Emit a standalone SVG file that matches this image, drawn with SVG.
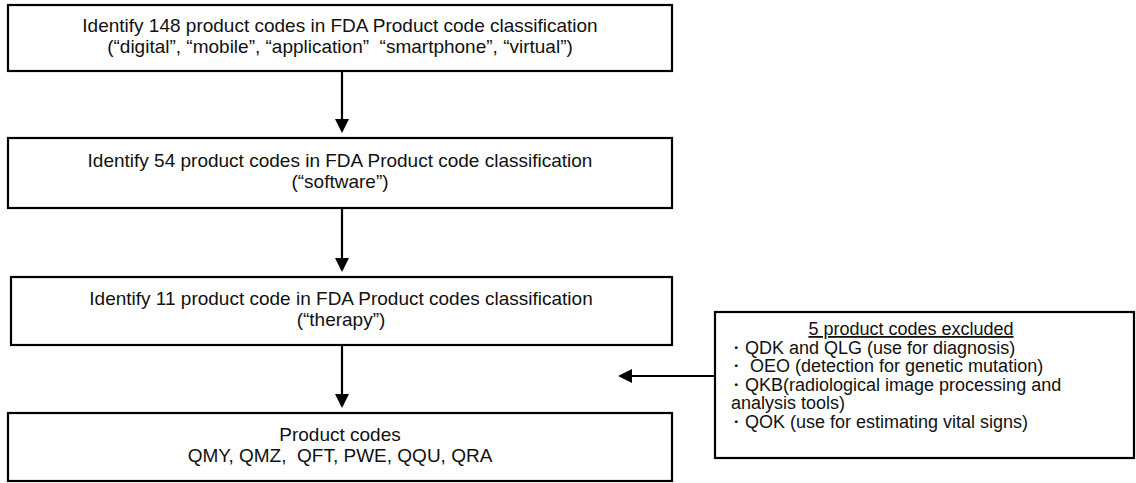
<svg xmlns="http://www.w3.org/2000/svg" width="1136" height="483" viewBox="0 0 1136 483">
<style>
.box{fill:#fff;stroke:#000;stroke-width:2.2}
.t{font-family:"Liberation Sans",Arial,sans-serif;font-size:18px;fill:#111}
.m{font-size:19px}
.c{text-anchor:middle}
.con{stroke:#000;stroke-width:2.2;fill:none}
</style>
<defs>
<marker id="ah" markerWidth="14" markerHeight="14" refX="12" refY="7" orient="auto" markerUnits="userSpaceOnUse">
<path d="M0,0 L14,7 L0,14 Z" fill="#000"/>
</marker>
</defs>
<rect width="1136" height="483" fill="#fff"/>
<g id="n1">
<rect class="box" x="8" y="5" width="664" height="66"/>
<text class="t m c" x="340" y="32">Identify 148 product codes in FDA Product code classification</text>
<text class="t m c" x="340" y="53" xml:space="preserve">(“digital”, “mobile”, “application”  “smartphone”, “virtual”)</text>
</g>
<g id="n2">
<rect class="box" x="8" y="138" width="664" height="70"/>
<text class="t m c" x="340" y="167">Identify 54 product codes in FDA Product code classification</text>
<text class="t m c" x="340" y="188">(“software”)</text>
</g>
<g id="n3">
<rect class="box" x="11" y="277" width="661" height="68"/>
<text class="t m c" x="341" y="305">Identify 11 product code in FDA Product codes classification</text>
<text class="t m c" x="341" y="326">(“therapy”)</text>
</g>
<g id="n4">
<rect class="box" x="8" y="413" width="664" height="68"/>
<text class="t m c" x="340" y="441">Product codes</text>
<text class="t m c" x="340" y="462" xml:space="preserve">QMY, QMZ,  QFT, PWE, QQU, QRA</text>
</g>
<g id="n5">
<rect class="box" x="715" y="312" width="419" height="146"/>
<text class="t c" x="911" y="335" text-decoration="underline">5 product codes excluded</text>
<text class="t" x="727" y="353.5">・QDK and QLG (use for diagnosis)</text>
<text class="t" x="727" y="372" xml:space="preserve">・ OEO (detection for genetic mutation)</text>
<text class="t" x="727" y="390.5">・QKB(radiological image processing and</text>
<text class="t" x="731" y="409">analysis tools)</text>
<text class="t" x="727" y="427.5">・QOK (use for estimating vital signs)</text>
</g>
<g id="connectors">
<line class="con" x1="342" y1="71" x2="342" y2="131" marker-end="url(#ah)"/>
<line class="con" x1="342" y1="208" x2="342" y2="270" marker-end="url(#ah)"/>
<line class="con" x1="342" y1="345" x2="342" y2="406" marker-end="url(#ah)"/>
<line class="con" x1="715" y1="376" x2="620" y2="376" marker-end="url(#ah)"/>
</g>
</svg>
